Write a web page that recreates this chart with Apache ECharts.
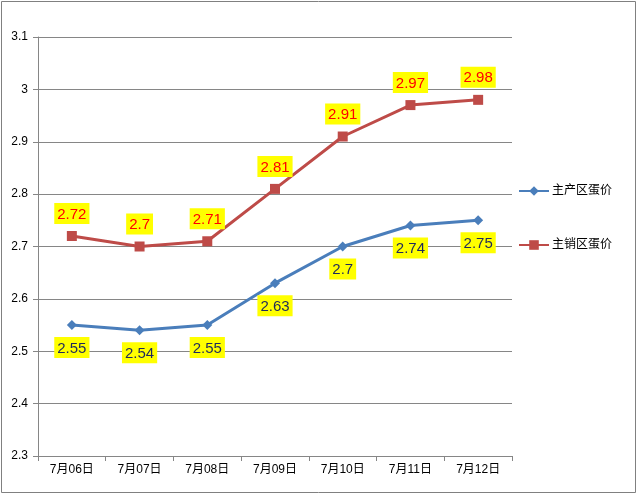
<!DOCTYPE html>
<html><head><meta charset="utf-8">
<script src="https://cdn.jsdelivr.net/npm/echarts@6/dist/echarts.min.js"></script>
<style>html,body{margin:0;padding:0;background:#fff}#c{width:638px;height:496px}</style>
</head><body><div id="c"></div>
<script>
var categories = ['7月06日','7月07日','7月08日','7月09日','7月10日','7月11日','7月12日'];
var producing = [2.55, 2.54, 2.55, 2.63, 2.7, 2.74, 2.75];
var selling = [2.72, 2.7, 2.71, 2.81, 2.91, 2.97, 2.98];
var seriesNames = ['主产区蛋价','主销区蛋价'];
var yTicks = {min: 2.3, max: 3.1, interval: 0.1};

var font = '"Liberation Sans", "Noto Sans CJK SC", sans-serif';
var chart = echarts.init(document.getElementById('c'), null, {renderer:'canvas'});
chart.setOption({
  animation: false,
  backgroundColor: '#fff',
  graphic: [{type:'rect', shape:{x:1.5,y:1.5,width:634,height:491}, style:{fill:'none', stroke:'#808080', lineWidth:1}}],
  grid: {left: 38, right: 126, top: 37, bottom: 40, containLabel: false},
  legend: {
    orient: 'vertical', left: 518, top: 185, itemGap: 42, padding: 0,
    itemWidth: 30, itemHeight: 12,
    textStyle: {fontFamily: font, fontSize: 12, color: '#000', padding: [0,0,0,-2]},
    data: seriesNames
  },
  xAxis: {
    type: 'category', data: categories, boundaryGap: true,
    axisLine: {lineStyle: {color: '#868686', width: 1}},
    axisTick: {show: true, length: 5, lineStyle: {color: '#868686'}},
    axisLabel: {color: '#000', fontFamily: font, fontSize: 12, margin: 8},
    splitLine: {show: false}
  },
  yAxis: {
    type: 'value', min: yTicks.min, max: yTicks.max, interval: yTicks.interval,
    axisLine: {show: true, lineStyle: {color: '#868686', width: 1}},
    axisTick: {show: true, length: 5, lineStyle: {color: '#868686'}},
    axisLabel: {color: '#000', fontFamily: font, fontSize: 12, margin: 10,
      formatter: function(v){ return String(Math.round(v*10)/10); }},
    splitLine: {show: true, lineStyle: {color: '#868686', width: 1}}
  },
  series: [
    {
      name: seriesNames[0], type: 'line', data: producing,
      symbol: 'diamond', symbolSize: 10,
      itemStyle: {color: '#4A7EBB'},
      lineStyle: {width: 3, color: '#4A7EBB'},
      label: {show: true, position: 'bottom', distance: 7,
        color: '#1F2A5C', fontFamily: font, fontSize: 15,
        backgroundColor: '#FFFF00', padding: [4, 3, 2, 3]}
    },
    {
      name: seriesNames[1], type: 'line', data: selling,
      symbol: 'rect', symbolSize: 10,
      itemStyle: {color: '#BE4B48'},
      lineStyle: {width: 3, color: '#BE4B48'},
      label: {show: true, position: 'top', distance: 7,
        color: '#FF0000', fontFamily: font, fontSize: 15,
        backgroundColor: '#FFFF00', padding: [4, 3, 2, 3]}
    }
  ]
});
</script></body></html>
